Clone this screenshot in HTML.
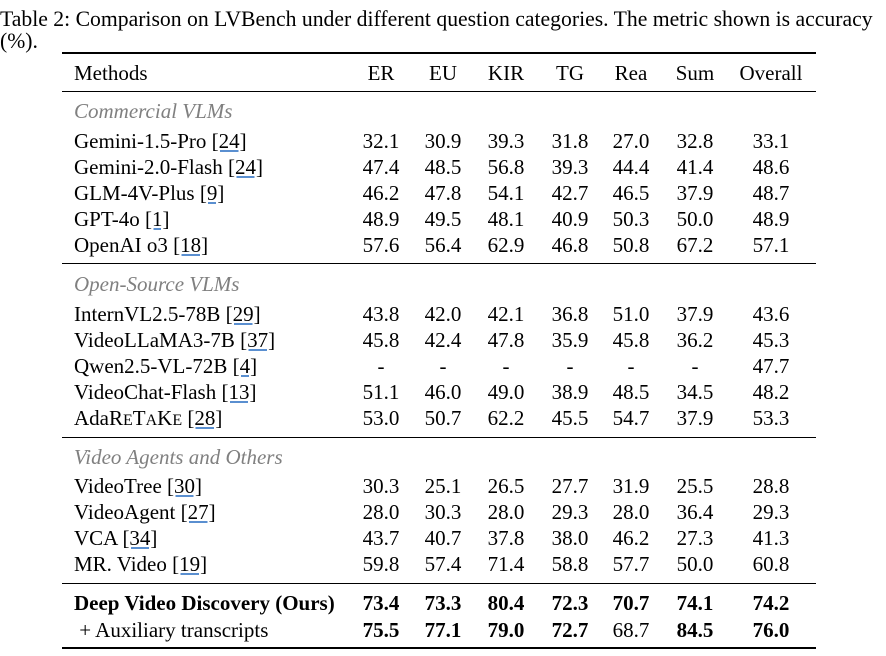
<!DOCTYPE html>
<html><head><meta charset="utf-8"><style>
body{margin:0;width:886px;height:656px;background:#fff;position:relative;font-family:"Liberation Serif",serif;font-size:21px;color:#000;overflow:hidden}
.cap{position:absolute;left:0;white-space:nowrap;line-height:22px;font-size:21.7px}
.r{position:absolute;left:0;width:886px;height:26px;line-height:26px}
.r span{position:absolute;white-space:nowrap}
.m{left:74px}
.c{transform:translateX(-50%)}
.c1{left:381px}.c2{left:443px}.c3{left:506px}.c4{left:570px}.c5{left:631px}.c6{left:695px}.c7{left:771px}
.sec{color:#808080;font-style:italic}
.b{font-weight:bold}
.cite{text-decoration:underline;text-decoration-color:#5a8fd0}
.h{position:absolute;left:62px;width:754px;background:#000}
</style></head><body>
<div class="cap" style="top:8px">Table 2: Comparison on LVBench under different question categories. The metric shown is accuracy</div>
<div class="cap" style="top:30px">(%).</div>
<div class="h" style="top:52px;height:2px"></div>
<div class="h" style="top:91px;height:1px"></div>
<div class="h" style="top:263px;height:1px"></div>
<div class="h" style="top:437px;height:1px"></div>
<div class="h" style="top:583px;height:1px"></div>
<div class="h" style="top:647px;height:2px"></div>

<div class="r" style="top:60px"><span class="m">Methods</span><span class="c c1">ER</span><span class="c c2">EU</span><span class="c c3">KIR</span><span class="c c4">TG</span><span class="c c5">Rea</span><span class="c c6">Sum</span><span class="c c7">Overall</span></div>

<div class="r sec" style="top:98px"><span class="m">Commercial VLMs</span></div>
<div class="r" style="top:128px"><span class="m">Gemini-1.5-Pro <span class="cite" style="position:static">[24]</span></span><span class="c c1">32.1</span><span class="c c2">30.9</span><span class="c c3">39.3</span><span class="c c4">31.8</span><span class="c c5">27.0</span><span class="c c6">32.8</span><span class="c c7">33.1</span></div>
<div class="r" style="top:154px"><span class="m">Gemini-2.0-Flash <span class="cite" style="position:static">[24]</span></span><span class="c c1">47.4</span><span class="c c2">48.5</span><span class="c c3">56.8</span><span class="c c4">39.3</span><span class="c c5">44.4</span><span class="c c6">41.4</span><span class="c c7">48.6</span></div>
<div class="r" style="top:180px"><span class="m">GLM-4V-Plus <span class="cite" style="position:static">[9]</span></span><span class="c c1">46.2</span><span class="c c2">47.8</span><span class="c c3">54.1</span><span class="c c4">42.7</span><span class="c c5">46.5</span><span class="c c6">37.9</span><span class="c c7">48.7</span></div>
<div class="r" style="top:206px"><span class="m">GPT-4o <span class="cite" style="position:static">[1]</span></span><span class="c c1">48.9</span><span class="c c2">49.5</span><span class="c c3">48.1</span><span class="c c4">40.9</span><span class="c c5">50.3</span><span class="c c6">50.0</span><span class="c c7">48.9</span></div>
<div class="r" style="top:232px"><span class="m">OpenAI o3 <span class="cite" style="position:static">[18]</span></span><span class="c c1">57.6</span><span class="c c2">56.4</span><span class="c c3">62.9</span><span class="c c4">46.8</span><span class="c c5">50.8</span><span class="c c6">67.2</span><span class="c c7">57.1</span></div>

<div class="r sec" style="top:271px"><span class="m">Open-Source VLMs</span></div>
<div class="r" style="top:301px"><span class="m">InternVL2.5-78B <span class="cite" style="position:static">[29]</span></span><span class="c c1">43.8</span><span class="c c2">42.0</span><span class="c c3">42.1</span><span class="c c4">36.8</span><span class="c c5">51.0</span><span class="c c6">37.9</span><span class="c c7">43.6</span></div>
<div class="r" style="top:327px"><span class="m">VideoLLaMA3-7B <span class="cite" style="position:static">[37]</span></span><span class="c c1">45.8</span><span class="c c2">42.4</span><span class="c c3">47.8</span><span class="c c4">35.9</span><span class="c c5">45.8</span><span class="c c6">36.2</span><span class="c c7">45.3</span></div>
<div class="r" style="top:353px"><span class="m">Qwen2.5-VL-72B <span class="cite" style="position:static">[4]</span></span><span class="c c1">-</span><span class="c c2">-</span><span class="c c3">-</span><span class="c c4">-</span><span class="c c5">-</span><span class="c c6">-</span><span class="c c7">47.7</span></div>
<div class="r" style="top:379px"><span class="m">VideoChat-Flash <span class="cite" style="position:static">[13]</span></span><span class="c c1">51.1</span><span class="c c2">46.0</span><span class="c c3">49.0</span><span class="c c4">38.9</span><span class="c c5">48.5</span><span class="c c6">34.5</span><span class="c c7">48.2</span></div>
<div class="r" style="top:405px"><span class="m">AdaR<span style="position:static;font-size:16px">E</span>T<span style="position:static;font-size:16px">A</span>K<span style="position:static;font-size:16px">E</span> <span class="cite" style="position:static">[28]</span></span><span class="c c1">53.0</span><span class="c c2">50.7</span><span class="c c3">62.2</span><span class="c c4">45.5</span><span class="c c5">54.7</span><span class="c c6">37.9</span><span class="c c7">53.3</span></div>

<div class="r sec" style="top:444px"><span class="m">Video Agents and Others</span></div>
<div class="r" style="top:473px"><span class="m">VideoTree <span class="cite" style="position:static">[30]</span></span><span class="c c1">30.3</span><span class="c c2">25.1</span><span class="c c3">26.5</span><span class="c c4">27.7</span><span class="c c5">31.9</span><span class="c c6">25.5</span><span class="c c7">28.8</span></div>
<div class="r" style="top:499px"><span class="m">VideoAgent <span class="cite" style="position:static">[27]</span></span><span class="c c1">28.0</span><span class="c c2">30.3</span><span class="c c3">28.0</span><span class="c c4">29.3</span><span class="c c5">28.0</span><span class="c c6">36.4</span><span class="c c7">29.3</span></div>
<div class="r" style="top:525px"><span class="m">VCA <span class="cite" style="position:static">[34]</span></span><span class="c c1">43.7</span><span class="c c2">40.7</span><span class="c c3">37.8</span><span class="c c4">38.0</span><span class="c c5">46.2</span><span class="c c6">27.3</span><span class="c c7">41.3</span></div>
<div class="r" style="top:551px"><span class="m">MR. Video <span class="cite" style="position:static">[19]</span></span><span class="c c1">59.8</span><span class="c c2">57.4</span><span class="c c3">71.4</span><span class="c c4">58.8</span><span class="c c5">57.7</span><span class="c c6">50.0</span><span class="c c7">60.8</span></div>

<div class="r b" style="top:590px"><span class="m">Deep Video Discovery (Ours)</span><span class="c c1">73.4</span><span class="c c2">73.3</span><span class="c c3">80.4</span><span class="c c4">72.3</span><span class="c c5">70.7</span><span class="c c6">74.1</span><span class="c c7">74.2</span></div>
<div class="r" style="top:617px"><span class="m" style="font-weight:normal">&nbsp;+ Auxiliary transcripts</span><span class="c c1 b">75.5</span><span class="c c2 b">77.1</span><span class="c c3 b">79.0</span><span class="c c4 b">72.7</span><span class="c c5">68.7</span><span class="c c6 b">84.5</span><span class="c c7 b">76.0</span></div>
</body></html>
